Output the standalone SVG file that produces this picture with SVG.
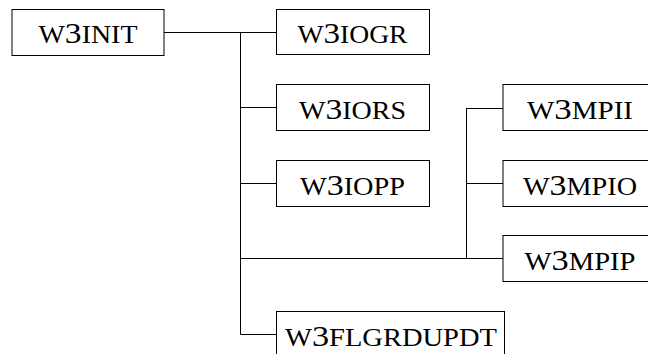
<svg xmlns="http://www.w3.org/2000/svg" width="648" height="354" viewBox="0 0 648 354">
<style>
.box{fill:#fff;stroke:#000;stroke-width:1}
.lbl{font-family:"Liberation Serif","Times New Roman",serif;font-size:25px;fill:#000;text-anchor:middle}
.d{font-size:30px}
.c{fill:none;stroke:#000;stroke-width:1}
</style>
<rect width="648" height="354" fill="#fff"/>
<g id="connectors" class="c">
<path d="M164 32.5H276.5M240.5 32.5V334.5M240.5 107.5H276.5M240.5 183.5H276.5M240.5 258.5H503M240.5 334.5H276.5M466.5 108V258.5M466.5 108.5H503M466.5 183.5H503"/>
</g>
<g id="w3init"><rect class="box" x="12" y="9.5" width="152" height="46"/><text class="lbl" x="88" y="43" textLength="99" lengthAdjust="spacingAndGlyphs">W<tspan class="d">3</tspan>INIT</text></g>
<g id="w3iogr"><rect class="box" x="276.5" y="9.5" width="153" height="45"/><text class="lbl" x="352.5" y="43" textLength="110" lengthAdjust="spacingAndGlyphs">W<tspan class="d">3</tspan>IOGR</text></g>
<g id="w3iors"><rect class="box" x="276.5" y="84.5" width="153" height="46"/><text class="lbl" x="352.5" y="118.5" textLength="107" lengthAdjust="spacingAndGlyphs">W<tspan class="d">3</tspan>IORS</text></g>
<g id="w3iopp"><rect class="box" x="276.5" y="160.5" width="153" height="46"/><text class="lbl" x="352.5" y="194.5" textLength="105" lengthAdjust="spacingAndGlyphs">W<tspan class="d">3</tspan>IOPP</text></g>
<g id="w3mpii"><rect class="box" x="503" y="84.5" width="154" height="46"/><text class="lbl" x="580" y="119" textLength="106" lengthAdjust="spacingAndGlyphs">W<tspan class="d">3</tspan>MPII</text></g>
<g id="w3mpio"><rect class="box" x="503" y="160.5" width="154" height="46"/><text class="lbl" x="580" y="194.5" textLength="114" lengthAdjust="spacingAndGlyphs">W<tspan class="d">3</tspan>MPIO</text></g>
<g id="w3mpip"><rect class="box" x="503" y="235.5" width="154" height="46"/><text class="lbl" x="580" y="269.5" textLength="111" lengthAdjust="spacingAndGlyphs">W<tspan class="d">3</tspan>MPIP</text></g>
<g id="w3flgrdupdt"><rect class="box" x="276.5" y="311.5" width="228" height="46"/><text class="lbl" x="391" y="345.5" textLength="212" lengthAdjust="spacingAndGlyphs">W<tspan class="d">3</tspan>FLGRDUPDT</text></g>
</svg>
